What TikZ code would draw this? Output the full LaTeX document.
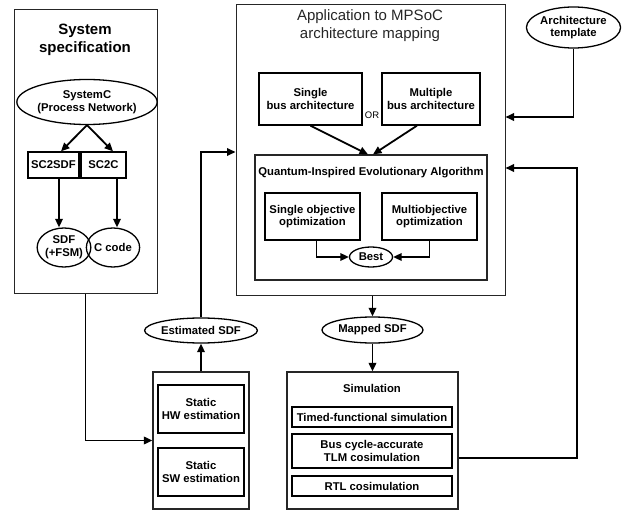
\documentclass[tikz,border=0pt]{standalone}
\usepackage{fontspec}
\setmainfont{Liberation Sans}
\usetikzlibrary{arrows.meta,shapes.geometric,calc}
\begin{document}
\begin{tikzpicture}[x=1pt,y=-1pt,
  lbl/.style={font=\bfseries\fontsize{11.3}{12.8}\selectfont,align=center},
  frame/.style={draw=black!85,line width=1pt,rectangle,inner sep=0pt},
  blk/.style={draw,line width=1.3pt,rectangle,inner sep=0pt,lbl},
  oval/.style={draw,line width=1.3pt,ellipse,inner sep=0pt,lbl},
  arr/.style={line width=1.8pt,-{Triangle[length=8.5pt,width=7.5pt]}},
  ln/.style={line width=1.8pt}]
\useasboundingbox (0,0) rectangle (625,511);

% --- system specification ---
\node[frame,minimum width=143pt,minimum height=283pt] (spec) at (85.5,151.5) {};
\node[font=\bfseries\fontsize{15}{17.5}\selectfont,align=center] (spectitle) at (85,40) {System\\specification};
\node[oval,minimum width=111pt,minimum height=45pt] (systemc) at (87,102) {SystemC\\(Process Network)};
\node[blk,minimum width=51pt,minimum height=26pt] (sc2sdf) at (53.5,165) {SC2SDF};
\node[blk,minimum width=45pt,minimum height=26pt] (sc2c) at (103.5,165) {SC2C};
\node[oval,minimum width=46pt,minimum height=39pt] (sdf) at (64,247.5) {SDF\\(+FSM)};
\node[oval,minimum width=50pt,minimum height=39pt] (ccode) at (113,247.5) {C code};

% --- mapping ---
\node[frame,minimum width=269pt,minimum height=290pt] (map) at (370.5,150) {};
\node[font=\fontsize{15}{18}\selectfont,align=center,text=black!85] (maptitle) at (370,26) {Application to MPSoC\\architecture mapping};
\node[blk,minimum width=103pt,minimum height=52pt] (single) at (310.5,99) {Single\\bus architecture};
\node[blk,minimum width=98pt,minimum height=52pt] (multiple) at (431,99) {Multiple\\bus architecture};
\node[font=\fontsize{9.5}{11}\selectfont] (or) at (372,115) {OR};
\node[frame,line width=1.2pt,minimum width=232pt,minimum height=125pt] (qiea) at (371,217.5) {};
\node[lbl] (qieatitle) at (371,173) {Quantum-Inspired Evolutionary Algorithm};
\node[blk,minimum width=95pt,minimum height=47pt] (sobj) at (312.5,216.5) {Single objective\\optimization};
\node[blk,minimum width=95pt,minimum height=47pt] (mobj) at (429.5,216.5) {Multiobjective\\optimization};
\node[oval,minimum width=43pt,minimum height=20pt] (best) at (371,257) {Best};

\node[oval,minimum width=93pt,minimum height=41pt] (arch) at (573.5,27.5) {Architecture\\template};

% --- estimation ---
\node[oval,minimum width=96pt,minimum height=25pt] (estsdf) at (201,330.5) {Estimated SDF};
\node[frame,line width=1.2pt,minimum width=96pt,minimum height=137pt] (static) at (201,440.5) {};
\node[blk,minimum width=86pt,minimum height=48pt] (shw) at (201,409) {Static\\HW estimation};
\node[blk,minimum width=86pt,minimum height=48pt] (ssw) at (201,472) {Static\\SW estimation};

% --- simulation ---
\node[oval,minimum width=101pt,minimum height=26pt] (mapsdf) at (372.5,330) {Mapped SDF};
\node[frame,line width=1.2pt,minimum width=171pt,minimum height=137pt] (sim) at (372.5,440.5) {};
\node[lbl] (simtitle) at (372,388) {Simulation};
\node[blk,minimum width=160pt,minimum height=20pt] (tfs) at (372,417) {Timed-functional simulation};
\node[blk,minimum width=160pt,minimum height=34pt] (bca) at (372,451) {Bus cycle-accurate\\TLM cosimulation};
\node[blk,minimum width=160pt,minimum height=20pt] (rtl) at (372,486) {RTL cosimulation};

% --- connectors ---
\draw[arr] (systemc.south) -- ($(sc2sdf.north)+(7.5,0)$);
\draw[arr] (systemc.south) -- ($(sc2c.north)+(9.5,0)$);
\draw[arr] ($(sc2sdf.south)+(5.5,0)$) -- ($(sdf.north)+(-5,0)$);
\draw[arr] ($(sc2c.south)+(13.5,0)$) -- ($(ccode.north)+(4,0)$);

\draw[arr] (spec.south) |- (static.west);
\draw[arr] (static.north) -- (estsdf.south);
\draw[arr] (estsdf.north) |- ($(map.west)+(0,2)$);

\draw[arr] (single.south) -- ($(qiea.north)+(-3,0)$);
\draw[arr] ($(multiple.south)+(-14,0)$) -- ($(qiea.north)+(2,0)$);
\draw[arr] ($(sobj.south)+(4,0)$) |- (best.west);
\draw[arr] (mobj.south) |- (best.east);

\draw[arr] (arch.south) |- ($(map.east)+(0,-33)$);

\draw[arr] (mapsdf.north |- map.south) -- (mapsdf.north);
\draw[arr] (mapsdf.south) -- (mapsdf.south |- sim.north);

\coordinate (fb) at (577,168);
\draw[arr] ($(sim.east)+(0,17.5)$) -| (fb) -- ($(map.east)+(0,18)$);
\end{tikzpicture}
\end{document}
